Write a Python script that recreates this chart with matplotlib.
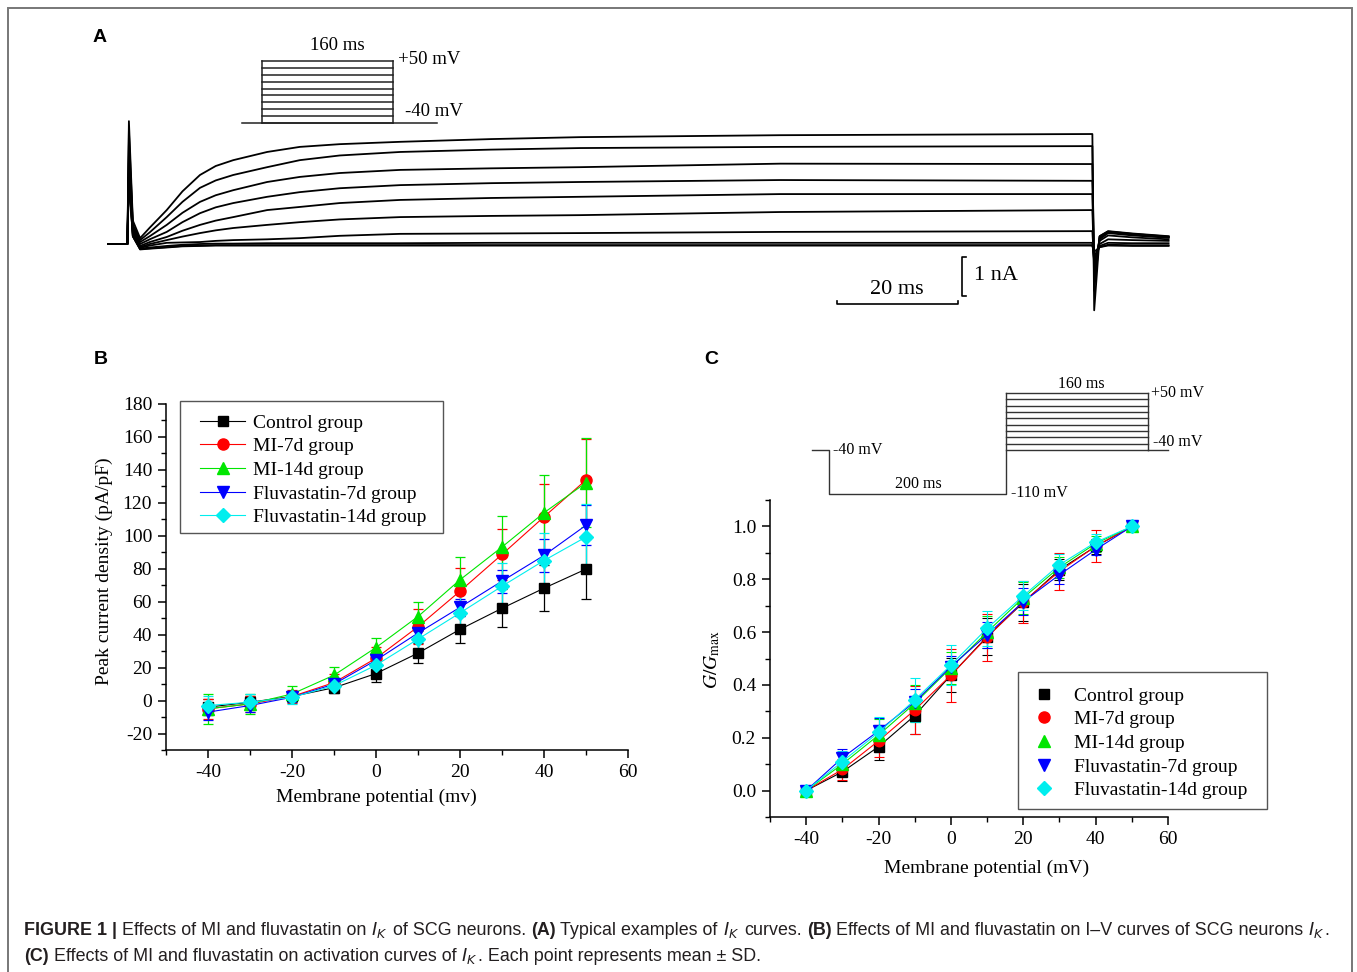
import matplotlib
matplotlib.use('Agg')
import matplotlib.pyplot as plt
from matplotlib.lines import Line2D
from matplotlib.patches import Rectangle
from matplotlib.ticker import MultipleLocator, FormatStrFormatter

plt.rcParams['font.family'] = ['Liberation Serif', 'DejaVu Serif']
plt.rcParams['axes.unicode_minus'] = False

W, H, DPI = 1357, 972, 100

# ---------------- data ----------------
# Panel A: current traces (nA) at keypoint times (ms), one trace per test potential
trace_t = [-3.3, -0.1, 0.15, 0.8, 2.0, 3.6, 6.4, 9.0, 11.9, 14.5, 17.4, 23.0, 28.4, 35.0,
           45.0, 60.0, 74.7, 107.8, 159.4, 159.7, 160.6, 162.0, 166.0, 172.0]
trace_p50 = [0, 0, 3.15, 0.60, 0.15, 0.42, 0.87, 1.35, 1.77, 2.00, 2.15, 2.36, 2.49, 2.56,
             2.62, 2.69, 2.74, 2.79, 2.82, -1.70, 0.20, 0.33, 0.27, 0.20]
trace_p40 = [0, 0, 2.90, 0.50, 0.10, 0.30, 0.69, 1.08, 1.44, 1.63, 1.77, 1.97, 2.15, 2.27,
             2.36, 2.42, 2.46, 2.49, 2.51, -1.20, 0.20, 0.32, 0.26, 0.19]
trace_p30 = [0, 0, 2.60, 0.45, 0.05, 0.20, 0.49, 0.80, 1.08, 1.25, 1.38, 1.59, 1.72, 1.82,
             1.90, 1.94, 1.97, 2.06, 2.05, -0.90, 0.18, 0.31, 0.25, 0.18]
trace_p20 = [0, 0, 2.30, 0.40, 0.00, 0.12, 0.31, 0.56, 0.79, 0.94, 1.05, 1.21, 1.33, 1.43,
             1.51, 1.56, 1.59, 1.64, 1.62, -0.75, 0.15, 0.30, 0.24, 0.17]
trace_p10 = [0, 0, 2.10, 0.35, -0.05, 0.05, 0.18, 0.34, 0.49, 0.60, 0.69, 0.87, 0.95, 1.05,
             1.13, 1.18, 1.21, 1.28, 1.28, -0.70, 0.12, 0.28, 0.22, 0.16]
trace_0 = [0, 0, 1.90, 0.30, -0.08, 0.00, 0.10, 0.19, 0.28, 0.35, 0.41, 0.49, 0.56, 0.63,
           0.69, 0.72, 0.74, 0.82, 0.87, -0.60, 0.08, 0.22, 0.17, 0.12]
trace_m10 = [0, 0, 1.80, 0.25, -0.10, -0.04, 0.03, 0.04, 0.05, 0.08, 0.10, 0.12, 0.15, 0.21,
             0.26, 0.27, 0.28, 0.31, 0.33, -0.50, 0.00, 0.12, 0.10, 0.08]
trace_m20 = [0, 0, 1.70, 0.20, -0.12, -0.09, -0.05, -0.02, 0.00, 0.01, 0.01, 0.02, 0.02, 0.02,
             0.02, 0.03, 0.03, 0.03, 0.03, -0.40, -0.05, 0.03, 0.02, 0.02]
trace_m30 = [0, 0, 1.70, 0.20, -0.13, -0.11, -0.08, -0.05, -0.04, -0.03, -0.03, -0.03, -0.03, -0.03,
             -0.03, -0.03, -0.03, -0.03, -0.03, -0.30, -0.08, -0.02, -0.03, -0.03]
trace_m40 = [0, 0, 1.70, 0.20, -0.14, -0.12, -0.09, -0.06, -0.05, -0.04, -0.04, -0.04, -0.04, -0.04,
             -0.04, -0.04, -0.04, -0.04, -0.04, -0.20, -0.08, -0.04, -0.05, -0.05]
traces = [trace_p50, trace_p40, trace_p30, trace_p20, trace_p10,
          trace_0, trace_m10, trace_m20, trace_m30, trace_m40]
scalebar_ms = 20
scalebar_nA = 1

# voltage protocols (mV, ms)
step_levels = [-40, -30, -20, -10, 0, 10, 20, 30, 40, 50]
hold_mV = -40
prepulse_mV = -110
prepulse_ms = 200
step_ms = 160

# Panels B and C
volts = [-40, -30, -20, -10, 0, 10, 20, 30, 40, 50]
groups = ['Control group', 'MI-7d group', 'MI-14d group',
          'Fluvastatin-7d group', 'Fluvastatin-14d group']

iv_control = [-4, -1, 2.5, 7.8, 16.4, 28.8, 43.2, 56.0, 68.2, 79.8]
iv_control_sd = [5, 4, 3, 3, 5, 6, 8.3, 11.6, 14, 18]
iv_mi7 = [-5, -2, 2.5, 10.9, 25.7, 44.8, 66.4, 88.7, 111.5, 133.9]
iv_mi7_sd = [6, 5, 4, 5, 7, 10.6, 14, 15.7, 20, 25]
iv_mi14 = [-5, -2, 4, 15.4, 32.2, 51.0, 73.3, 93.2, 114.0, 132.2]
iv_mi14_sd = [9, 6, 5, 5, 6, 9, 14, 19, 23, 27]
iv_flu7 = [-7, -3, 2, 10, 24.5, 41.0, 56.6, 72.5, 88.1, 106.4]
iv_flu7_sd = [5, 4, 3, 4, 4, 5, 5, 7, 10, 12]
iv_flu14 = [-3, -1, 2, 9, 21.5, 37.3, 53.2, 69.4, 85.0, 99.3]
iv_flu14_sd = [6, 5, 4, 4, 6, 9, 12, 14, 17, 20]

gg_control = [0, 0.071, 0.166, 0.284, 0.437, 0.583, 0.712, 0.836, 0.924, 1.0]
gg_control_sd = [0, 0.035, 0.05, 0.07, 0.065, 0.07, 0.07, 0.04, 0.03, 0]
gg_mi7 = [0, 0.080, 0.188, 0.305, 0.437, 0.580, 0.715, 0.830, 0.925, 1.0]
gg_mi7_sd = [0, 0.04, 0.06, 0.09, 0.10, 0.09, 0.08, 0.07, 0.06, 0]
gg_mi14 = [0, 0.100, 0.210, 0.330, 0.465, 0.600, 0.730, 0.845, 0.935, 1.0]
gg_mi14_sd = [0, 0.04, 0.06, 0.07, 0.06, 0.06, 0.06, 0.04, 0.03, 0]
gg_flu7 = [0, 0.124, 0.226, 0.336, 0.469, 0.590, 0.715, 0.817, 0.912, 1.0]
gg_flu7_sd = [0, 0.035, 0.05, 0.05, 0.04, 0.05, 0.05, 0.035, 0.02, 0]
gg_flu14 = [0, 0.110, 0.220, 0.343, 0.475, 0.614, 0.737, 0.855, 0.940, 1.0]
gg_flu14_sd = [0, 0.04, 0.06, 0.085, 0.075, 0.065, 0.055, 0.04, 0.03, 0]

colors = ['#000000', '#ff0000', '#00e600', '#0000ff', '#00eeee']
markers = ['s', 'o', '^', 'v', 'D']
msizes = [7, 8, 8.5, 8.5, 7]

# ---------------- layout helpers ----------------
fig = plt.figure(figsize=(W / DPI, H / DPI), dpi=DPI)


def fx(x):
    return x / W


def fy(y):
    return 1 - y / H


def rect(x0, y0, x1, y1):
    return [x0 / W, 1 - y1 / H, (x1 - x0) / W, (y1 - y0) / H]


def frame_box(x0, y0, x1, y1, color='#555555', lw=1.0):
    fig.patches.append(Rectangle((fx(x0), fy(y1)), fx(x1) - fx(x0), fy(y0) - fy(y1),
                                 transform=fig.transFigure, fill=False,
                                 edgecolor=color, lw=lw, zorder=5))


# figure frame
fig.patches.append(Rectangle((fx(8), -0.02), fx(1352) - fx(8), fy(8) + 0.02,
                             transform=fig.transFigure, fill=False,
                             edgecolor='#777777', lw=1.4))

SANS = ['Liberation Sans', 'DejaVu Sans']
for lab, x, y in [('A', 100, 38), ('B', 101, 360), ('C', 711, 360)]:
    fig.text(fx(x), fy(y), lab, family=SANS, fontweight='bold', fontsize=14,
             ha='center', va='center')

# ---------------- Panel A ----------------
ax_t0, ax_pxms, ax_y0, ax_pxna = 128, 6.05, 244, 39.0
axA = fig.add_axes(rect(100, 96, 1180, 320))
axA.set_xlim((100 - ax_t0) / ax_pxms, (1180 - ax_t0) / ax_pxms)
axA.set_ylim((ax_y0 - 320) / ax_pxna, (ax_y0 - 96) / ax_pxna)
axA.axis('off')
for tr in traces:
    axA.plot(trace_t, tr, color='black', lw=1.3, solid_joinstyle='round')

# scale bars
sb_x0, sb_y = 117.2, -1.54
axA.plot([sb_x0, sb_x0, sb_x0 + scalebar_ms, sb_x0 + scalebar_ms],
         [sb_y + 0.07, sb_y, sb_y, sb_y + 0.07], color='black', lw=1.2)
vb_x, vb_y0 = 137.9, -1.33
axA.plot([vb_x + 0.6, vb_x, vb_x, vb_x + 0.6],
         [vb_y0 + scalebar_nA, vb_y0 + scalebar_nA, vb_y0, vb_y0], color='black', lw=1.2)
fig.text(fx(897), fy(289), '%d ms' % scalebar_ms, fontsize=16, ha='center', va='center')
fig.text(fx(974), fy(276), '%d nA' % scalebar_nA, fontsize=16, ha='left', va='center')

# protocol inset A
pa_t0, pa_pxms, pa_v0, pa_pxmv = 262, 0.819, 123, 0.689
axPA = fig.add_axes(rect(230, 30, 480, 135))
axPA.set_xlim((230 - pa_t0) / pa_pxms, (480 - pa_t0) / pa_pxms)
axPA.set_ylim(hold_mV - (135 - pa_v0) / pa_pxmv, hold_mV + (pa_v0 - 30) / pa_pxmv)
axPA.axis('off')
pk = dict(color='#222222', lw=1.1)
axPA.plot([-24, step_ms + 54], [hold_mV, hold_mV], **pk)
for v in step_levels:
    axPA.plot([0, step_ms], [v, v], **pk)
axPA.plot([0, 0], [hold_mV, max(step_levels)], **pk)
axPA.plot([step_ms, step_ms], [hold_mV, max(step_levels)], **pk)
fig.text(fx(337), fy(46), '160 ms', fontsize=13.5, ha='center', va='center')
fig.text(fx(398), fy(59), '+50 mV', fontsize=13.5, ha='left', va='center')
fig.text(fx(405), fy(112), '-40 mV', fontsize=13.5, ha='left', va='center')


# ---------------- common axis styling ----------------
def style_axis(ax):
    for s in ['top', 'right']:
        ax.spines[s].set_visible(False)
    for s in ['left', 'bottom']:
        ax.spines[s].set_linewidth(1.1)
    ax.tick_params(which='major', direction='out', length=6, width=1.1, labelsize=14, pad=4)
    ax.tick_params(which='minor', direction='out', length=3.5, width=1.0)


# ---------------- Panel B ----------------
axB = fig.add_axes(rect(166, 404, 628, 750))
iv = [iv_control, iv_mi7, iv_mi14, iv_flu7, iv_flu14]
iv_sd = [iv_control_sd, iv_mi7_sd, iv_mi14_sd, iv_flu7_sd, iv_flu14_sd]
for vals, sd, c, m, ms in zip(iv, iv_sd, colors, markers, msizes):
    axB.errorbar(volts, vals, yerr=sd, color=c, marker=m, ms=ms, mec=c, mfc=c,
                 lw=0.8, elinewidth=0.9, capsize=3.5, capthick=0.9)
axB.set_xlim(-50, 60)
axB.set_ylim(-30, 180)
axB.xaxis.set_major_locator(MultipleLocator(20))
axB.xaxis.set_minor_locator(MultipleLocator(10))
axB.set_yticks(range(-20, 181, 20))
axB.yaxis.set_minor_locator(MultipleLocator(10))
style_axis(axB)
fig.text(fx(376), fy(797), 'Membrane potential (mv)', fontsize=14, ha='center', va='center')
fig.text(fx(104), fy(571), 'Peak current density (pA/pF)', fontsize=14, ha='center',
         va='center', rotation=90)
hB = [Line2D([], [], color=c, marker=m, ms=ms, lw=0.8) for c, m, ms in zip(colors, markers, msizes)]
axB.legend(hB, groups, loc='upper left', bbox_to_anchor=(fx(200), fy(414)),
           bbox_transform=fig.transFigure, borderaxespad=0, fontsize=14,
           frameon=False, borderpad=0, labelspacing=0.31, handlelength=2.32,
           handletextpad=0.41)
frame_box(180, 401, 443, 533)

# ---------------- Panel C ----------------
axC = fig.add_axes(rect(770, 500, 1168, 817))
gg = [gg_control, gg_mi7, gg_mi14, gg_flu7, gg_flu14]
gg_sd = [gg_control_sd, gg_mi7_sd, gg_mi14_sd, gg_flu7_sd, gg_flu14_sd]
for vals, sd, c, m, ms in zip(gg, gg_sd, colors, markers, msizes):
    axC.errorbar(volts, vals, yerr=sd, color=c, marker=m, ms=ms * 0.95, mec=c, mfc=c,
                 lw=0.8, elinewidth=0.8, capsize=3.5, capthick=0.8)
axC.set_xlim(-50, 60)
axC.set_ylim(-0.1, 1.1)
axC.xaxis.set_major_locator(MultipleLocator(20))
axC.xaxis.set_minor_locator(MultipleLocator(10))
axC.set_yticks([0, 0.2, 0.4, 0.6, 0.8, 1.0])
axC.yaxis.set_minor_locator(MultipleLocator(0.1))
axC.yaxis.set_major_formatter(FormatStrFormatter('%.1f'))
style_axis(axC)
fig.text(fx(987), fy(868), 'Membrane potential (mV)', fontsize=14, ha='center', va='center')
fig.text(fx(712), fy(660), r'$G/G_{\mathrm{max}}$', fontsize=14, ha='center', va='center',
         rotation=90, math_fontfamily='stix')
hC = [Line2D([], [], color=c, marker=m, ms=ms, ls='none') for c, m, ms in zip(colors, markers, msizes)]
axC.legend(hC, groups, loc='upper left', bbox_to_anchor=(fx(1025), fy(687)),
           bbox_transform=fig.transFigure, borderaxespad=0, fontsize=14,
           frameon=False, borderpad=0, labelspacing=0.31, handlelength=2.0,
           handletextpad=0.5)
frame_box(1018, 672, 1267, 809)

# protocol inset C
pc_t0, pc_pxms, pc_v0, pc_pxmv = 829, 0.885, 450, 0.633
axPC = fig.add_axes(rect(790, 370, 1200, 510))
axPC.set_xlim((790 - pc_t0) / pc_pxms, (1200 - pc_t0) / pc_pxms)
axPC.set_ylim(hold_mV - (510 - pc_v0) / pc_pxmv, hold_mV + (pc_v0 - 370) / pc_pxmv)
axPC.axis('off')
pkc = dict(color='#333333', lw=1.0)
t_end = prepulse_ms + step_ms
axPC.plot([-19, 0, 0, prepulse_ms, prepulse_ms],
          [hold_mV, hold_mV, prepulse_mV, prepulse_mV, max(step_levels)], **pkc)
for v in step_levels:
    axPC.plot([prepulse_ms, t_end], [v, v], **pkc)
axPC.plot([t_end, t_end], [hold_mV, max(step_levels)], **pkc)
axPC.plot([t_end, t_end + 23], [hold_mV, hold_mV], **pkc)
cs = 11.5
fig.text(fx(833), fy(450), '-40 mV', fontsize=cs, ha='left', va='center')
fig.text(fx(918), fy(484), '200 ms', fontsize=cs, ha='center', va='center')
fig.text(fx(1011), fy(493), '-110 mV', fontsize=cs, ha='left', va='center')
fig.text(fx(1081), fy(384), '160 ms', fontsize=cs, ha='center', va='center')
fig.text(fx(1151), fy(393), '+50 mV', fontsize=cs, ha='left', va='center')
fig.text(fx(1153), fy(442), '-40 mV', fontsize=cs, ha='left', va='center')

# ---------------- caption ----------------
renderer = fig.canvas.get_renderer()


def text_width(s, size, weight):
    t = fig.text(0, 0, s, fontsize=size, family=SANS, fontweight=weight,
                 math_fontfamily='dejavusans')
    w = t.get_window_extent(renderer).width
    t.remove()
    return w


def draw_runs(runs, x0, ybase, size, draw=True):
    sp = text_width('a a', size, 'normal') - text_width('aa', size, 'normal')
    x = x0
    for s, weight in runs:
        lead = len(s) - len(s.lstrip(' '))
        trail = len(s) - len(s.rstrip(' '))
        core = s.strip(' ')
        x += lead * sp
        if core:
            t = fig.text(fx(x), fy(ybase), core, fontsize=size, family=SANS,
                         fontweight=weight, ha='left', va='baseline',
                         math_fontfamily='dejavusans', color='#231f20')
            x += t.get_window_extent(renderer).width
            if not draw:
                t.remove()
        x += trail * sp
    return x - x0


line1 = [('FIGURE 1 |', 'bold'), (' Effects of MI and fluvastatin on ', 'normal'),
         ('$I_K$', 'normal'), (' of SCG neurons. ', 'normal'), ('(A)', 'bold'),
         (' Typical examples of ', 'normal'), ('$I_K$', 'normal'), (' curves. ', 'normal'),
         ('(B)', 'bold'), (' Effects of MI and fluvastatin on I–V curves of SCG neurons ', 'normal'),
         ('$I_K$', 'normal'), ('.', 'normal')]
line2 = [('(C)', 'bold'), (' Effects of MI and fluvastatin on activation curves of ', 'normal'),
         ('$I_K$', 'normal'), ('. Each point represents mean ± SD.', 'normal')]

w10 = draw_runs(line1, 24, 935, 10, draw=False)
cap_size = 10 * (1331 - 24) / w10
draw_runs(line1, 24, 935, cap_size)
draw_runs(line2, 24, 961, cap_size)

fig.savefig('out.png', dpi=DPI)
